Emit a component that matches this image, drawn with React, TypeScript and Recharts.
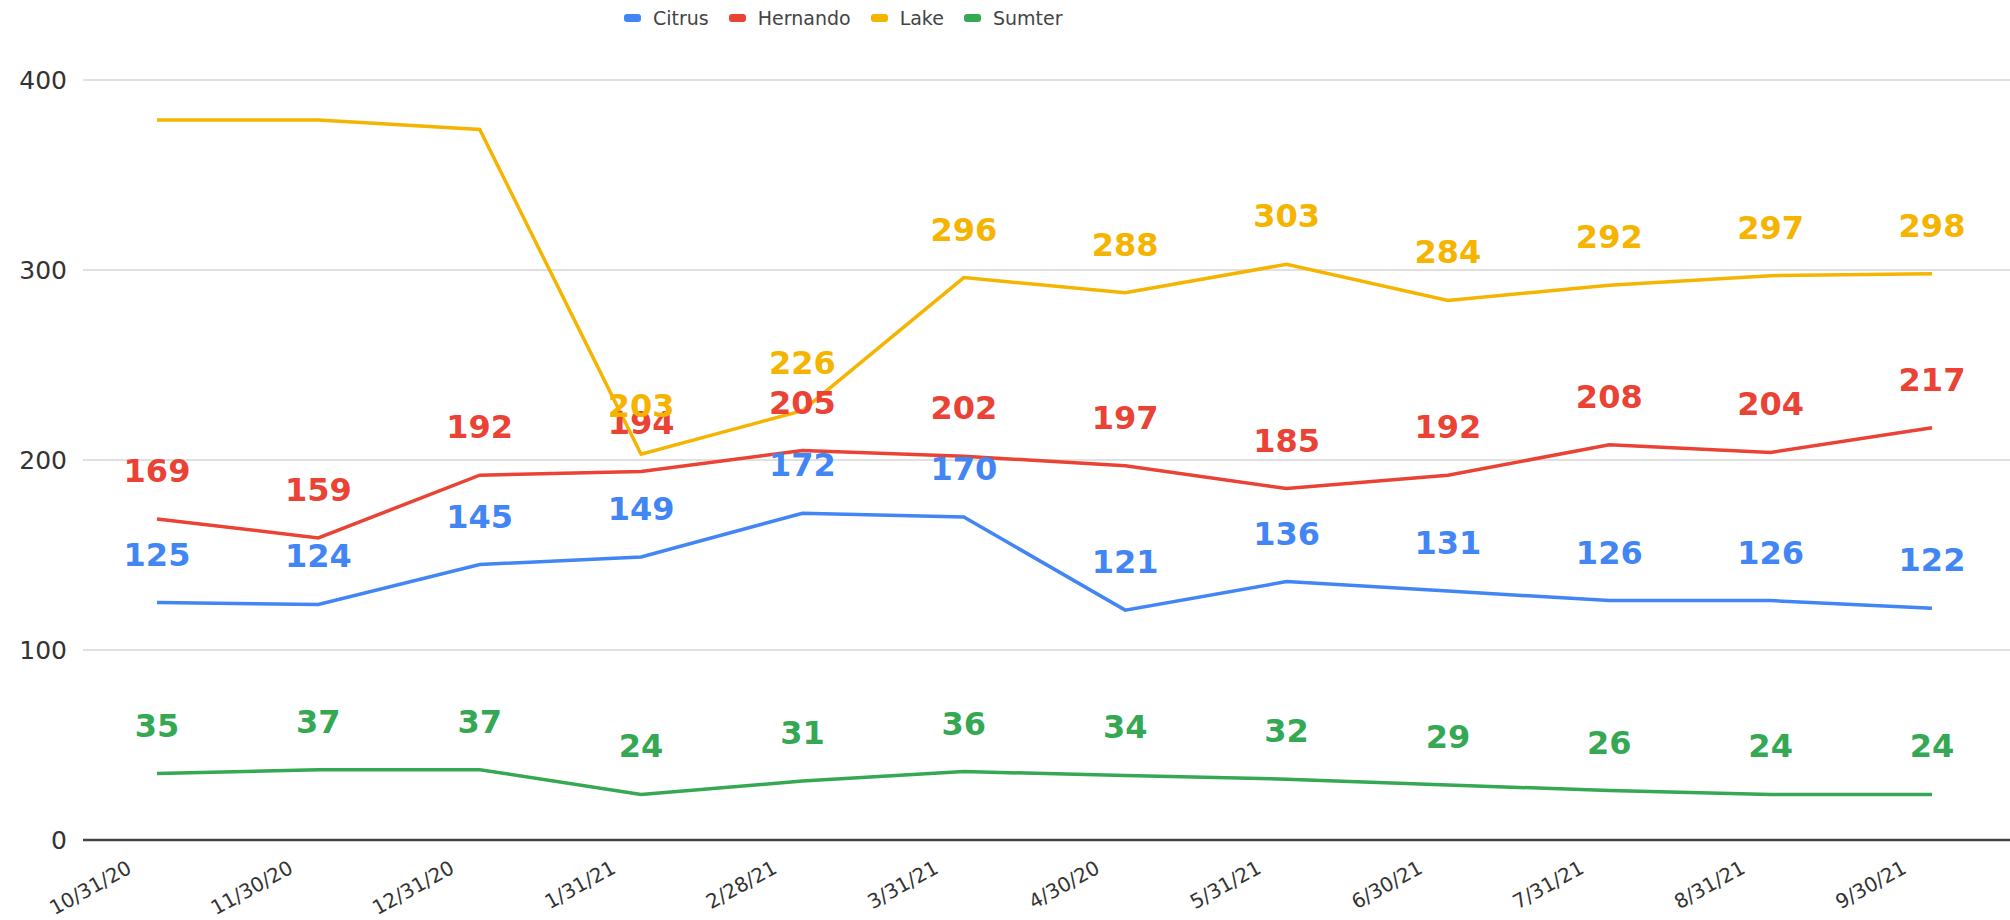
import React from "react";
import { LineChart, Line, XAxis, YAxis, CartesianGrid, Legend, LabelList } from "recharts";

const months = [
  "10/31/20", "11/30/20", "12/31/20", "1/31/21", "2/28/21", "3/31/21",
  "4/30/20", "5/31/21", "6/30/21", "7/31/21", "8/31/21", "9/30/21",
];
const citrus = [125, 124, 145, 149, 172, 170, 121, 136, 131, 126, 126, 122];
const hernando = [169, 159, 192, 194, 205, 202, 197, 185, 192, 208, 204, 217];
const lake = [379, 379, 374, 203, 226, 296, 288, 303, 284, 292, 297, 298];
const sumter = [35, 37, 37, 24, 31, 36, 34, 32, 29, 26, 24, 24];
const yTicks = [0, 100, 200, 300, 400];

const series = [
  { key: "Citrus", values: citrus, color: "#4285F4" },
  { key: "Hernando", values: hernando, color: "#EA4335" },
  { key: "Lake", values: lake, color: "#F4B400" },
  { key: "Sumter", values: sumter, color: "#34A853" },
];

// the first three Lake points carry no label in the source chart
const unlabeled: Record<string, number[]> = { Lake: [0, 1, 2] };

const data = months.map((m, i) => {
  const row: Record<string, string | number> = { month: m };
  series.forEach((s) => (row[s.key] = s.values[i]));
  return row;
});

const font = "DejaVu Sans, Arial, sans-serif";

const makeLabel = (name: string, color: string) => (props: any) => {
  const { x, y, value, index } = props;
  if ((unlabeled[name] || []).includes(index)) return null;
  return (
    <text x={x} y={y - 37} textAnchor="middle" fill={color} fontFamily={font} fontWeight="bold" fontSize={32}>
      {value}
    </text>
  );
};

const XTick = ({ x, y, payload }: any) => (
  <g transform={`translate(${x - 24},${y + 24})`}>
    <text textAnchor="end" transform="rotate(-29)" fill="#333" fontFamily={font} fontSize={20}>
      {payload.value}
    </text>
  </g>
);

const LegendBox = () => (
  <div style={{ display: "flex", alignItems: "center", paddingLeft: 624, fontFamily: font, fontSize: 19, color: "#444" }}>
    {series.map((s) => (
      <div key={s.key} style={{ display: "flex", alignItems: "center", marginRight: 20 }}>
        <span style={{ width: 17, height: 8, borderRadius: 3, background: s.color, marginRight: 12 }} />
        <span>{s.key}</span>
      </div>
    ))}
  </div>
);

export default function App() {
  return (
    <div style={{ position: "absolute", left: 0, top: 0, width: 2010, height: 920, background: "#fff" }}>
      <LineChart width={2010} height={920} data={data} margin={{ top: 80, right: 0, bottom: 0, left: 0 }}>
        <CartesianGrid vertical={false} stroke="#e0e0e0" strokeWidth={2} />
        <XAxis
          dataKey="month"
          height={80}
          interval={0}
          tickLine={false}
          axisLine={{ stroke: "#444", strokeWidth: 2.5 }}
          padding={{ left: 74, right: 78 }}
          tick={<XTick />}
        />
        <YAxis
          width={83}
          domain={[0, 400]}
          ticks={yTicks}
          tickLine={false}
          axisLine={false}
          tickMargin={10}
          tick={{ fill: "#333", fontSize: 25, fontFamily: font }}
        />
        <Legend verticalAlign="middle" wrapperStyle={{ top: 7, left: 0, width: 2010 }} content={<LegendBox />} />
        {series.map((s) => (
          <Line
            key={s.key}
            dataKey={s.key}
            stroke={s.color}
            strokeWidth={3.5}
            dot={false}
            isAnimationActive={false}
          >
            <LabelList dataKey={s.key} content={makeLabel(s.key, s.color)} />
          </Line>
        ))}
      </LineChart>
    </div>
  );
}
